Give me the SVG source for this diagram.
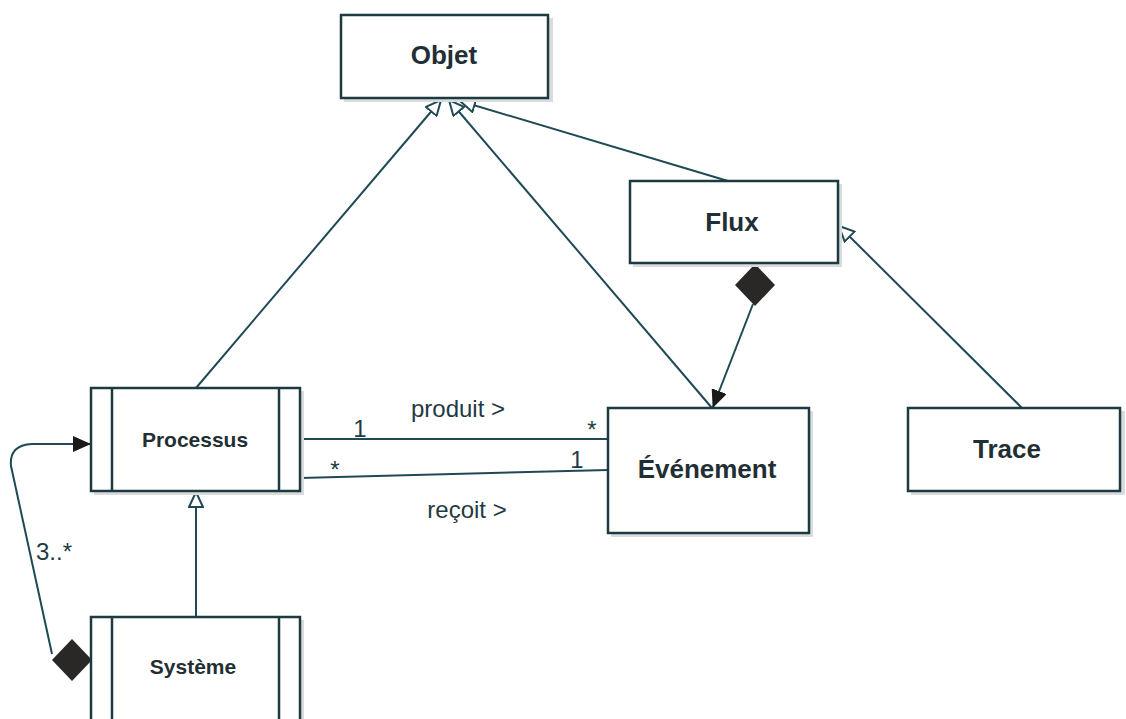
<svg xmlns="http://www.w3.org/2000/svg" width="1126" height="719" viewBox="0 0 1126 719">
<style>
.box{fill:#fff;stroke:#1d3a40;stroke-width:2.5}
.sh{fill:#d9dcdc}
.in{stroke:#1d3a40;stroke-width:2.5;fill:none}
.t{font-family:"Liberation Sans",Arial,sans-serif;font-weight:bold;fill:#1f2f34;text-anchor:middle}
.l{font-family:"Liberation Sans",Arial,sans-serif;fill:#1f3a44;font-size:24px}
.c{stroke:#1f4a55;stroke-width:2;fill:none}
</style>
<defs>
<marker id="tri" markerWidth="18" markerHeight="16" refX="16" refY="8" orient="auto" markerUnits="userSpaceOnUse">
<path d="M1,1 L16,8 L1,15 Z" fill="#fff" stroke="#1f4a55" stroke-width="2"/>
</marker>
<marker id="arr" markerWidth="18" markerHeight="16" refX="17" refY="8" orient="auto" markerUnits="userSpaceOnUse">
<path d="M0,0 L18,8 L0,16 Z" fill="#1a1a1a"/>
</marker>
</defs>
<rect width="1126" height="719" fill="#fff"/>
<g id="connectors">
<line class="c" x1="196" y1="388" x2="441" y2="100" marker-end="url(#tri)"/>
<line class="c" x1="712" y1="408" x2="449" y2="100" marker-end="url(#tri)"/>
<line class="c" x1="728" y1="181" x2="460" y2="101" marker-end="url(#tri)"/>
<line class="c" x1="1022" y1="408" x2="839" y2="226" marker-end="url(#tri)"/>
<line class="c" x1="196" y1="617" x2="196" y2="492" marker-end="url(#tri)"/>
<line class="c" x1="753" y1="304" x2="713" y2="407" marker-end="url(#arr)"/>
<path d="M735,285 L755,264 L775,285 L755,306 Z" fill="#2a2727"/>
<path class="c" d="M52,654 L11,466 Q9,445 32,444 L90,444" marker-end="url(#arr)"/>
<path d="M52,660 L72,639 L92,660 L72,681 Z" fill="#2a2727"/>
<line class="c" x1="300" y1="439" x2="608" y2="439"/>
<line class="c" x1="300" y1="478" x2="608" y2="470"/>
<text class="l" x="360" y="437" text-anchor="middle">1</text>
<text class="l" x="458" y="417" text-anchor="middle">produit &gt;</text>
<text class="l" x="592" y="438" text-anchor="middle">*</text>
<text class="l" x="335" y="478" text-anchor="middle">*</text>
<text class="l" x="577" y="468" text-anchor="middle">1</text>
<text class="l" x="467" y="518" text-anchor="middle">reçoit &gt;</text>
<text class="l" x="36" y="560">3..*</text>
</g>
<g id="objet">
<rect class="sh" x="344" y="18" width="209" height="84"/>
<rect class="box" x="341" y="15" width="207" height="83"/>
<text class="t" x="444" y="64" font-size="26">Objet</text>
</g>
<g id="flux">
<rect class="sh" x="633" y="184" width="209" height="83"/>
<rect class="box" x="630" y="181" width="208" height="82"/>
<text class="t" x="732" y="231" font-size="26">Flux</text>
</g>
<g id="processus">
<rect class="sh" x="94" y="391" width="210" height="104"/>
<rect class="box" x="91" y="388" width="209" height="103"/>
<line class="in" x1="112" y1="388" x2="112" y2="491"/>
<line class="in" x1="279" y1="388" x2="279" y2="491"/>
<text class="t" x="195" y="447" font-size="21">Processus</text>
</g>
<g id="systeme">
<rect class="sh" x="94" y="620" width="210" height="110"/>
<rect class="box" x="91" y="617" width="209" height="110"/>
<line class="in" x1="112" y1="617" x2="112" y2="727"/>
<line class="in" x1="279" y1="617" x2="279" y2="727"/>
<text class="t" x="193" y="674" font-size="21">Système</text>
</g>
<g id="evenement">
<rect class="sh" x="611" y="411" width="202" height="126"/>
<rect class="box" x="608" y="408" width="201" height="125"/>
<text class="t" x="707" y="478" font-size="26">Événement</text>
</g>
<g id="trace">
<rect class="sh" x="911" y="411" width="214" height="84"/>
<rect class="box" x="908" y="408" width="212" height="83"/>
<text class="t" x="1007" y="458" font-size="26">Trace</text>
</g>
</svg>
